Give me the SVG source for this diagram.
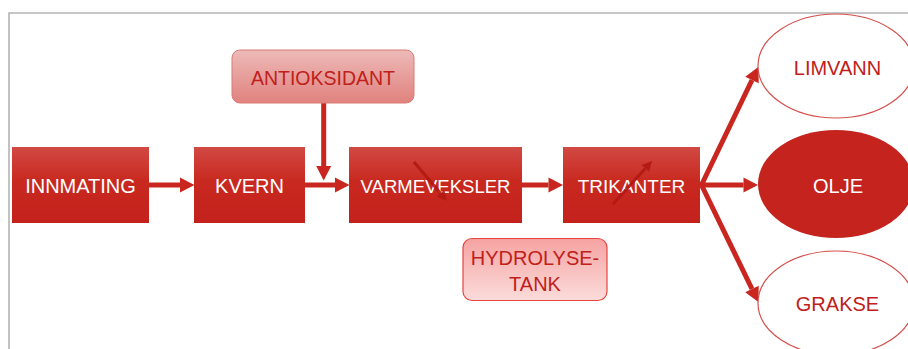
<svg xmlns="http://www.w3.org/2000/svg" width="908" height="349" viewBox="0 0 908 349">
<defs>
<linearGradient id="gMain" x1="0" y1="0" x2="0" y2="1">
<stop offset="0" stop-color="#d24944"/>
<stop offset="0.45" stop-color="#c8291f"/>
<stop offset="1" stop-color="#c4211d"/>
</linearGradient>
<linearGradient id="gAnti" x1="0" y1="0" x2="0" y2="1">
<stop offset="0" stop-color="#edbab8"/>
<stop offset="1" stop-color="#e0827e"/>
</linearGradient>
<linearGradient id="gHyd" x1="0" y1="0" x2="0" y2="1">
<stop offset="0" stop-color="#f5a3a1"/>
<stop offset="1" stop-color="#fbdcdb"/>
</linearGradient>
<marker id="ah" markerUnits="userSpaceOnUse" markerWidth="15" markerHeight="16" refX="0" refY="8" orient="auto" overflow="visible">
<path d="M0,0.5 L14.5,8 L0,15.5 z" fill="#c8261f"/>
</marker>
<marker id="ahs" markerUnits="userSpaceOnUse" markerWidth="11" markerHeight="10" refX="0" refY="5" orient="auto" overflow="visible">
<path d="M0,0 L10,5 L0,10 z" fill="#b31812"/>
</marker>
</defs>
<style>
.box{fill:url(#gMain);}
.wt{font-family:"Liberation Sans",Arial,sans-serif;font-size:20px;fill:#ffffff;text-anchor:middle;}
.rt{font-family:"Liberation Sans",Arial,sans-serif;font-size:20px;fill:#c0201b;text-anchor:middle;}
.con{stroke:#c8261f;stroke-width:5;fill:none;marker-end:url(#ah);}
.thin{stroke:#b31812;stroke-width:3;fill:none;marker-end:url(#ahs);opacity:0.9;}
.oval{fill:#ffffff;stroke:#d4504b;stroke-width:1.2;}
</style>
<rect width="908" height="349" fill="#ffffff"/>
<path d="M9,349 L9,13 L908,13" fill="none" stroke="#b4b4b4" stroke-width="1.6"/>

<g id="connectors">
<line class="con" x1="149" y1="185" x2="180" y2="185"/>
<line class="con" x1="305" y1="185" x2="335" y2="185"/>
<line class="con" x1="323.7" y1="103" x2="323.7" y2="166"/>
<line class="con" x1="522" y1="185" x2="548.5" y2="185"/>
<line class="con" x1="700" y1="185" x2="743.5" y2="185"/>
<line class="con" x1="701" y1="186" x2="752" y2="80"/>
<line class="con" x1="701" y1="184" x2="752" y2="289"/>
</g>

<g id="innmating">
<rect class="box" x="12" y="147" width="137" height="76"/>
<text class="wt" x="80.5" y="192.5">INNMATING</text>
</g>
<g id="kvern">
<rect class="box" x="194" y="147" width="111" height="76"/>
<text class="wt" x="249.5" y="192.5">KVERN</text>
</g>
<g id="varmeveksler">
<rect class="box" x="349" y="147" width="173" height="76"/>
<text class="wt" x="435.5" y="192.5" style="font-size:18.5px">VARMEVEKSLER</text>
<line class="thin" x1="414" y1="162" x2="440.5" y2="193.3"/>
</g>
<g id="trikanter">
<rect class="box" x="563" y="147" width="137" height="76"/>
<text class="wt" x="631.5" y="192.5" style="font-size:19px">TRIKANTER</text>
<line class="thin" x1="613" y1="204" x2="645.3" y2="168.4"/>
</g>
<g id="antioksidant">
<rect x="232" y="50" width="182" height="53" rx="8" fill="url(#gAnti)" stroke="#da7a76" stroke-width="1"/>
<text class="rt" x="323" y="85" style="font-size:19.5px">ANTIOKSIDANT</text>
</g>
<g id="hydrolysetank">
<rect x="463" y="238.5" width="144" height="62" rx="9" fill="url(#gHyd)" stroke="#e8453f" stroke-width="1.2"/>
<text class="rt" x="535" y="264.5">HYDROLYSE-</text>
<text class="rt" x="535" y="290.5">TANK</text>
</g>
<g id="limvann">
<ellipse class="oval" cx="836" cy="66" rx="78" ry="52"/>
<text class="rt" x="837.5" y="75">LIMVANN</text>
</g>
<g id="olje">
<ellipse cx="836" cy="184" rx="78" ry="54" fill="#c4231e"/>
<text class="wt" x="838" y="192.5">OLJE</text>
</g>
<g id="grakse">
<ellipse class="oval" cx="836" cy="303" rx="78" ry="52"/>
<text class="rt" x="837.5" y="311">GRAKSE</text>
</g>
</svg>
